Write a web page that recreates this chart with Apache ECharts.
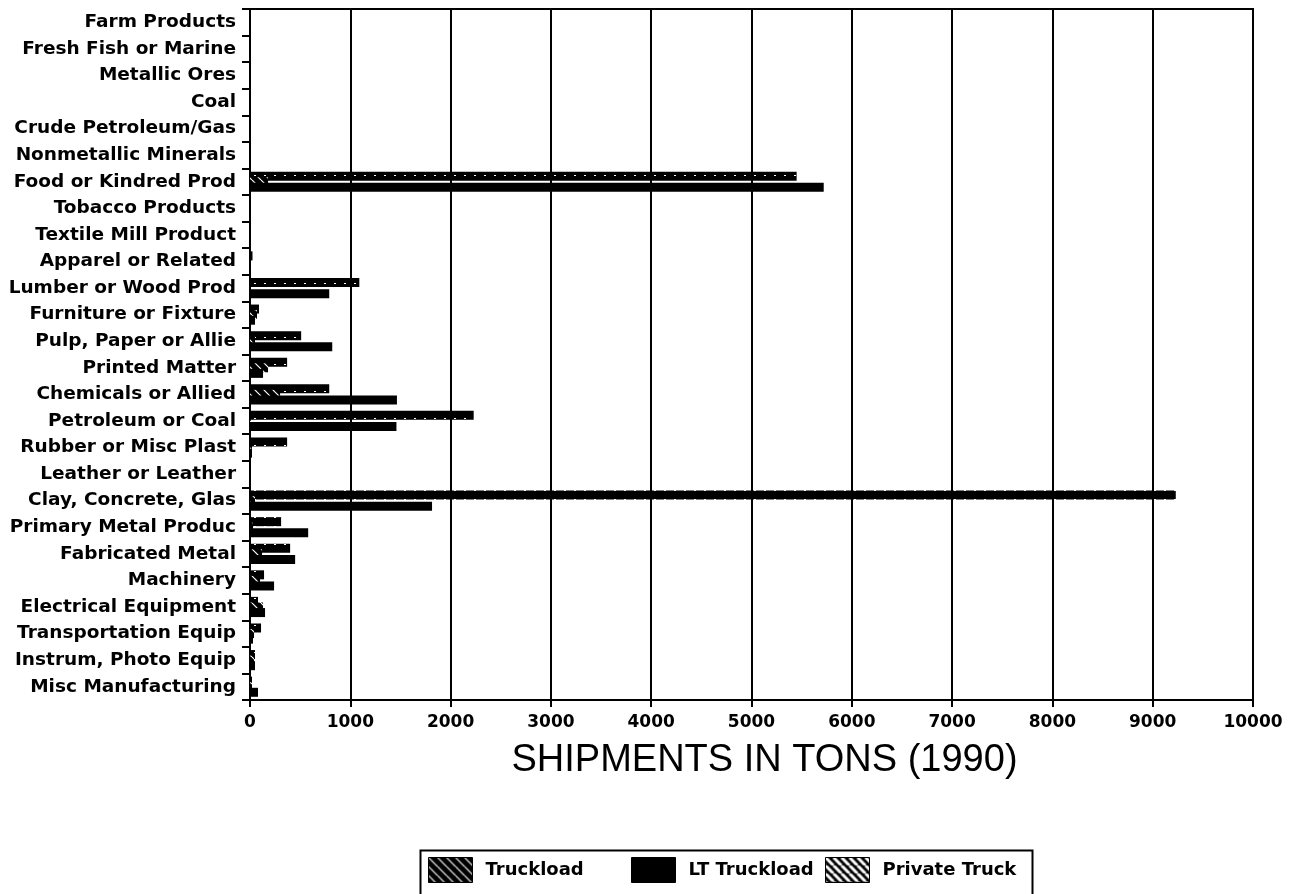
<!DOCTYPE html>
<html>
<head>
<meta charset="utf-8">
<script src="https://cdn.jsdelivr.net/npm/echarts@6/dist/echarts.min.js"></script>
<style>
html,body{margin:0;padding:0;background:#fff;}
#chart{width:1294px;height:894px;}
</style>
</head>
<body>
<div id="chart"></div>
<script>
// ---- data ----
var categories = [
  'Farm Products','Fresh Fish or Marine','Metallic Ores','Coal','Crude Petroleum/Gas',
  'Nonmetallic Minerals','Food or Kindred Prod','Tobacco Products','Textile Mill Product',
  'Apparel or Related','Lumber or Wood Prod','Furniture or Fixture','Pulp, Paper or Allie',
  'Printed Matter','Chemicals or Allied','Petroleum or Coal','Rubber or Misc Plast',
  'Leather or Leather','Clay, Concrete, Glas','Primary Metal Produc','Fabricated Metal',
  'Machinery','Electrical Equipment','Transportation Equip','Instrum, Photo Equip',
  'Misc Manufacturing'
];
var truckload   = [0,0,0,0,0,0,5450,0,0,25,1090,90,510,370,790,2230,370,0,9230,310,400,140,80,110,50,20];
var privateTruck= [0,0,0,0,0,0,180,0,0,0,0,70,50,180,300,10,20,0,50,30,120,100,130,40,40,20];
var ltTruckload = [0,0,0,0,0,0,5720,0,0,0,790,50,820,130,1465,1460,20,0,1815,580,450,240,150,30,50,80];
var xTicks = [0,1000,2000,3000,4000,5000,6000,7000,8000,9000,10000];
var seriesNames = ['Truckload','LT Truckload','Private Truck'];

function makeHatch(period, lineW){
  var c = document.createElement('canvas');
  c.width = period; c.height = period;
  var ctx = c.getContext('2d');
  ctx.fillStyle = '#000';
  ctx.fillRect(0,0,period,period);
  ctx.strokeStyle = '#fff';
  ctx.lineWidth = lineW;
  for (var k=-period;k<=period;k+=period){
    ctx.beginPath();
    ctx.moveTo(k,0); ctx.lineTo(k+period,period);
    ctx.stroke();
  }
  return {image:c, repeat:'repeat'};
}
function makeDots(){
  var c = document.createElement('canvas');
  c.width = 10; c.height = 9;
  var ctx = c.getContext('2d');
  ctx.fillStyle = '#000';
  ctx.fillRect(0,0,10,9);
  ctx.fillStyle = '#fff';
  ctx.fillRect(4,4,2,1);
  return {image:c, repeat:'repeat'};
}
var truckBarPat = makeDots();
var truckLegendPat = makeHatch(9, 1.2);
var privBarPat = makeHatch(9, 1.2);
var privLegendPat = makeHatch(8, 3);

var chart = echarts.init(document.getElementById('chart'));
var FONT = 'DejaVu Sans';

function legendAt(item, left){
  return {
    data:[item], left:left, top:857, padding:0,
    itemWidth:44, itemHeight:25, icon:'rect', selectedMode:false,
    textStyle:{fontFamily:FONT, fontWeight:'bold', fontSize:18, color:'#000', padding:[0,0,0,8]}
  };
}

var barCommon = {type:'bar', barWidth:9, barGap:'-38%', animation:false};

chart.setOption({
  animation:false,
  backgroundColor:'#fff',
  grid:{left:250, right:41, top:9, bottom:194, show:true, borderColor:'#000', borderWidth:2},
  xAxis:{
    type:'value', min:0, max:10000, interval:1000,
    name:'SHIPMENTS IN TONS (1990)', nameLocation:'middle', nameGap:42,
    nameTextStyle:{fontFamily:'Liberation Sans', fontSize:38, color:'#000', padding:[0,0,0,26]},
    axisLine:{show:true, lineStyle:{color:'#000', width:2}},
    axisTick:{show:true, length:7, lineStyle:{color:'#000', width:2}},
    axisLabel:{fontFamily:FONT, fontWeight:'bold', fontSize:17, color:'#000', margin:14,
      formatter:function(v){ return xTicks.indexOf(v)>=0 ? String(v) : ''; }},
    splitLine:{show:true, lineStyle:{color:'#000', width:2}}
  },
  yAxis:{
    type:'category', data:categories, inverse:true,
    axisLine:{show:true, lineStyle:{color:'#000', width:2}},
    axisTick:{show:true, length:8, lineStyle:{color:'#000', width:2}},
    axisLabel:{fontFamily:FONT, fontWeight:'bold', fontSize:18.5, color:'#000', margin:14, interval:0},
    splitLine:{show:false}
  },
  legend:[
    legendAt({name:'Truckload', itemStyle:{color:truckLegendPat, borderColor:'#000', borderWidth:1}},428),
    legendAt({name:'LT Truckload', itemStyle:{color:'#000', borderColor:'#000', borderWidth:1}},631),
    legendAt({name:'Private Truck', itemStyle:{color:privLegendPat, borderColor:'#000', borderWidth:1}},825)
  ],
  graphic:[{type:'rect', left:418, top:848, shape:{width:612, height:80},
    style:{fill:'none', stroke:'#000', lineWidth:2}, z:100}],
  series:[
    Object.assign({name:'Truckload', data:truckload, itemStyle:{color:truckBarPat}}, barCommon),
    Object.assign({name:'Private Truck', data:privateTruck, itemStyle:{color:privBarPat}}, barCommon),
    Object.assign({name:'LT Truckload', data:ltTruckload, itemStyle:{color:'#000'}}, barCommon)
  ]
});
</script>
</body>
</html>
